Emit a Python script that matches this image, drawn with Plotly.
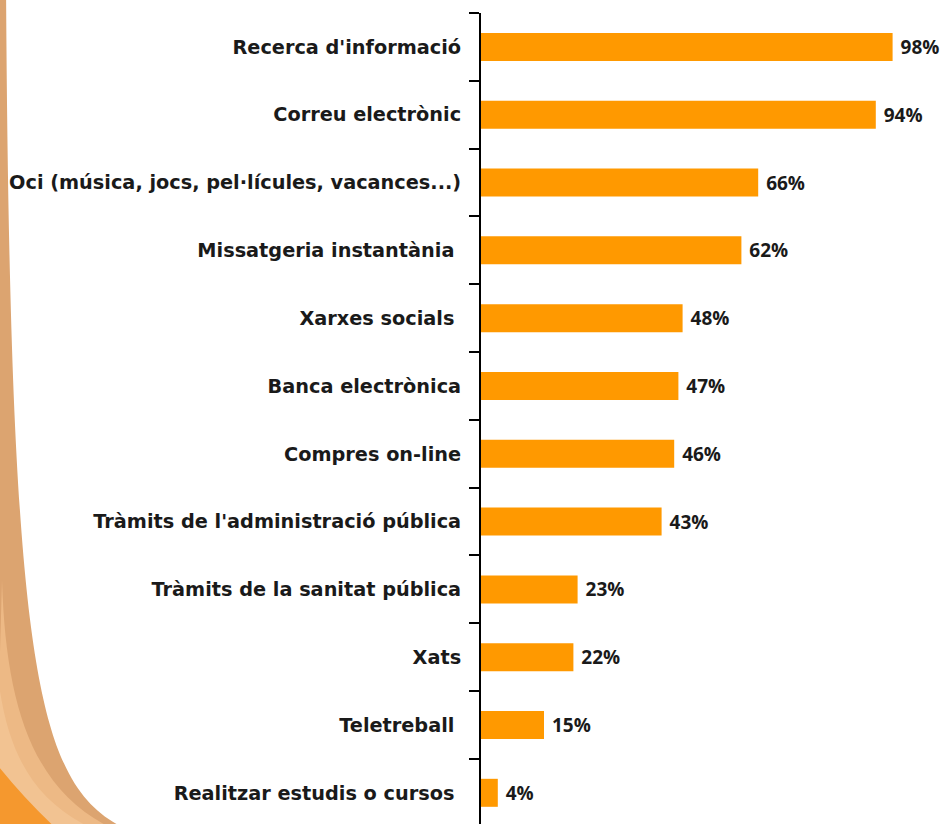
import plotly.graph_objects as go

categories = [
    "Recerca d'informació",
    "Correu electrònic",
    "Oci (música, jocs, pel·lícules, vacances...)",
    "Missatgeria instantània ",
    "Xarxes socials ",
    "Banca electrònica",
    "Compres on-line",
    "Tràmits de l'administració pública",
    "Tràmits de la sanitat pública",
    "Xats",
    "Teletreball ",
    "Realitzar estudis o cursos ",
]
values = [98, 94, 66, 62, 48, 47, 46, 43, 23, 22, 15, 4]
value_labels = [f"{v}%" for v in values]
title_text = "(2011)"

W, H = 949, 824
ML, MR, MT, MB = 481, 6, 13, 0
PW, PH = W - ML - MR, H - MT - MB


def px(x):
    return (x - ML) / PW


def py(y):
    return (H - MB - y) / PH


def path(points, close=True):
    s = ""
    for cmd, pts in points:
        s += cmd + " " + " ".join(f"{px(a):.5f},{py(b):.5f}" for a, b in pts) + " "
    if close:
        s += "Z"
    return s


LABEL_FONT = "DejaVu Sans"
VALUE_FONT = "Open Sans"

fig = go.Figure()
fig.add_trace(go.Bar(
    y=categories,
    x=values,
    orientation="h",
    marker=dict(color="#FF9900", line=dict(width=0)),
    text=[" " + t for t in value_labels],
    textposition="outside",
    textfont=dict(family=VALUE_FONT, size=19, color="#1a1a1a", weight=700),
    cliponaxis=False,
    hoverinfo="skip",
))

shapes = [
    # tan outer strip / band
    dict(type="path", xref="paper", yref="paper", layer="below",
         path=path([("M", [(-5, -20)]), ("L", [(6, -20), (6, 560)]),
                    ("C", [(10, 700), (40, 790), (132, 832)]),
                    ("L", [(-5, 832)])]),
         fillcolor="#DCA470", line=dict(width=0)),
    # lighter peach band
    dict(type="path", xref="paper", yref="paper", layer="below",
         path=path([("M", [(2, 580)]),
                    ("C", [(6, 710), (34, 795), (120, 832)]),
                    ("L", [(-5, 832), (-5, 580)])]),
         fillcolor="#EDB985", line=dict(width=0)),
    dict(type="path", xref="paper", yref="paper", layer="below",
         path=path([("M", [(-5, 640)]),
                    ("C", [(0, 740), (25, 800), (100, 832)]),
                    ("L", [(-5, 832)])]),
         fillcolor="#F2C392", line=dict(width=0)),
    # bright orange corner
    dict(type="path", xref="paper", yref="paper", layer="below",
         path=path([("M", [(-5, 762)]), ("Q", [(25, 800), (60, 832)]),
                    ("L", [(-5, 832)])]),
         fillcolor="#F5982E", line=dict(width=0)),
]

fig.update_layout(
    width=W, height=H,
    margin=dict(l=ML, r=MR, t=MT, b=MB, pad=0, autoexpand=False),
    paper_bgcolor="white",
    plot_bgcolor="rgba(0,0,0,0)",
    showlegend=False,
    bargap=0.587,
    shapes=shapes,
    font=dict(family=LABEL_FONT, size=19, color="#1a1a1a"),
    xaxis=dict(range=[0, 110], visible=False, fixedrange=True, automargin=False),
    yaxis=dict(
        type="category",
        range=[11.46, -0.5],
        automargin=False,
        fixedrange=True,
        tickson="boundaries",
        ticks="outside",
        ticklen=10,
        tickwidth=2,
        tickcolor="black",
        showline=True,
        linecolor="black",
        linewidth=2,
        showgrid=False,
        ticklabelstandoff=14,
        tickfont=dict(family=LABEL_FONT, size=19.3, color="#1a1a1a", weight=700),
    ),
    annotations=[dict(
        text=title_text, xref="paper", yref="paper",
        x=px(645), y=py(-10), xanchor="center", yanchor="middle",
        showarrow=False,
        font=dict(family=VALUE_FONT, size=17, color="#1a1a1a", weight=700),
    )],
)

fig.write_html(
    "out.html",
    config={"displayModeBar": False},
    post_script="document.body.style.margin='0';document.body.style.overflow='hidden';",
)
